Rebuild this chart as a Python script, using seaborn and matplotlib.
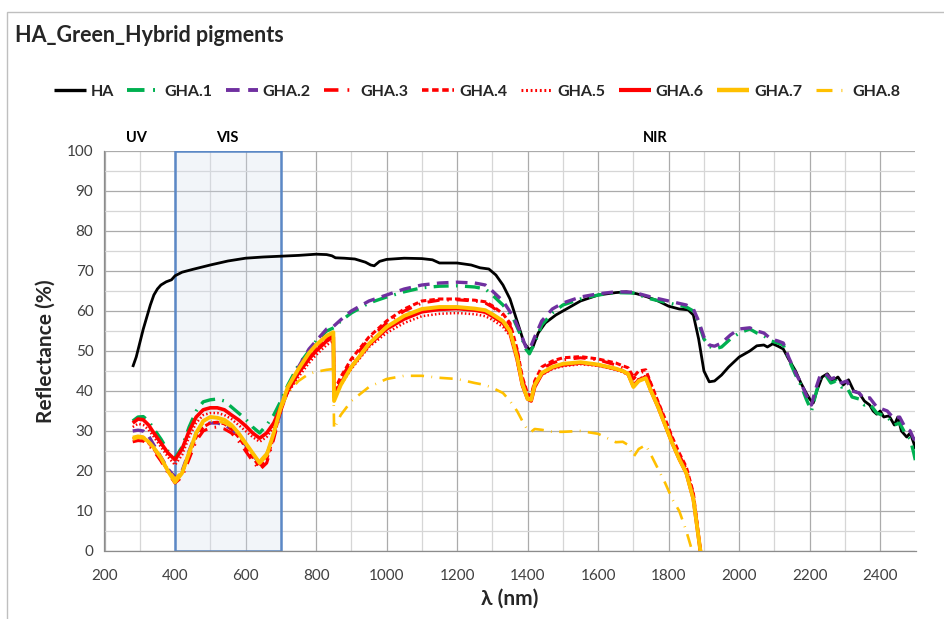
import numpy as np
import pandas as pd
import seaborn as sns
import matplotlib
matplotlib.use("Agg")
import matplotlib.pyplot as plt
from matplotlib.lines import Line2D
from matplotlib.patches import Rectangle

# ---------------- data ----------------
ha_x = [280, 290, 300, 310, 320, 330, 340, 350, 360, 375, 390, 400, 420, 450, 500, 550, 600, 650,
        700, 750, 800, 830, 845, 855, 880, 910, 940, 955, 965, 980, 1000, 1050, 1100, 1130, 1150,
        1200, 1240, 1265, 1290, 1310, 1330, 1350, 1370, 1390, 1405, 1415, 1430, 1450, 1480, 1510,
        1550, 1600, 1650, 1680, 1710, 1740, 1770, 1800, 1830, 1855, 1870, 1885, 1900, 1915, 1930,
        1950, 1970, 2000, 2030, 2050, 2070, 2080, 2095, 2110, 2125, 2140, 2160, 2175, 2190, 2200,
        2210, 2220, 2235, 2250, 2265, 2280, 2295, 2310, 2325, 2340, 2355, 2370, 2380, 2390, 2400,
        2410, 2425, 2440, 2450, 2460, 2475, 2485, 2495, 2500]
ha_y = [46, 48.5, 52, 55.5, 58.5, 61.5, 64, 65.5, 66.5, 67.3, 67.8, 68.8, 69.7, 70.4, 71.5, 72.5,
        73.2, 73.5, 73.7, 73.9, 74.2, 74.1, 73.8, 73.3, 73.2, 73, 72.2, 71.5, 71.3, 72.4, 72.9, 73.2,
        73.1, 72.8, 72, 72, 71.5, 70.8, 70.5, 69, 66.5, 63, 57.5, 52, 50.3, 51, 54.5, 57, 59, 60.5,
        62.5, 64, 64.6, 64.8, 64.3, 63.5, 62.5, 61.2, 60.5, 60.3, 59, 53, 45, 42.3, 42.5,
        44, 46, 48.5, 50, 51.3, 51.5, 51, 51.8, 51.2, 50.5, 48, 45, 42, 39.5, 38,
        37, 40, 43.5, 44.3, 42.5, 43.5, 41.5, 42.8, 40, 39.5, 37.5, 36.5, 35, 34.2, 35,
        33.5, 33.8, 31.5, 33.5, 30, 28.5, 29.5, 27, 25.5]

g12_x = [280, 295, 310, 325, 340, 360, 380, 400, 420, 440, 460, 480, 500, 520, 540, 560, 580, 600,
         620, 640, 660, 680, 700, 720, 750, 780, 800, 830, 850, 870, 900, 950, 1000, 1050, 1100,
         1150, 1200, 1250, 1280, 1300, 1330, 1360, 1380, 1395, 1405, 1420, 1440, 1470, 1500, 1550,
         1600, 1650, 1700, 1750, 1800, 1850, 1870, 1885, 1900, 1915, 1930, 1950, 1975, 2000, 2030,
         2050, 2070, 2090, 2110, 2125, 2140, 2160, 2175, 2190, 2205, 2215, 2230, 2245, 2260, 2275,
         2290, 2305, 2320, 2340, 2355, 2370, 2390, 2405, 2420, 2440, 2455, 2470, 2485, 2495, 2500]
gha1_y = [32.5, 33.5, 33.6, 32.5, 30.5, 28, 25, 23.2, 26, 31, 35, 37.3, 37.8, 38, 37.5, 36, 34.5, 33,
          31, 29.5, 31.5, 34, 37.5, 41.5, 46.5, 50, 52.5, 55, 55.8, 57.5, 59.5, 62, 63.5, 64.8, 65.8,
          66.2, 66.3, 66, 65.5, 64, 61.5, 58, 54, 50.5, 49.3, 52, 56.5, 59.5, 61.5, 63,
          64, 64.6, 64.5, 63, 62, 61, 60, 57, 53, 51.2, 50.5, 51, 53, 54.5, 55.5,
          54.5, 53.8, 52.5, 52, 51.5, 48, 44, 41.5, 38, 35, 38.5, 43.5, 44, 42, 42.5,
          41, 41, 38.5, 38, 36.5, 36.8, 34.5, 34, 33.5, 31.5, 32, 29.5, 28, 24.5, 22.5]
gha2_y = [30, 30.2, 30, 28.8, 26.5, 23.5, 20.5, 18.5, 20, 25, 29.5, 31.5, 32, 32, 31.5, 30.5, 28.5, 26.5,
          24, 22, 24, 29, 35, 40.5, 46, 50.5, 52.5, 55.5, 56.2, 57.8, 60, 62.5, 64, 65.5, 66.5,
          67, 67.2, 67, 66.5, 65, 62.5, 58.5, 54.5, 51, 50.3, 53.5, 57.5, 60.5, 62, 63.5,
          64.3, 64.8, 64.7, 63.5, 62.5, 61.5, 60.5, 57.5, 53.5, 51.5, 51.2, 52, 54, 55.5, 55.8,
          55, 54.5, 53, 52.5, 52, 48.5, 44.5, 42, 39, 36.5, 40, 44, 44.3, 43, 43.5,
          42, 42.5, 40, 39.5, 38, 38.3, 36, 35.5, 35, 33, 33.5, 31, 30, 28, 28]

gv_x = [280, 295, 310, 325, 340, 360, 380, 400, 420, 440, 460, 480, 500, 520, 540, 560, 580, 600,
        620, 640, 660, 680, 700, 720, 750, 780, 800, 830, 849, 851, 870, 900, 950, 1000, 1050,
        1100, 1150, 1200, 1250, 1280, 1300, 1330, 1350, 1370, 1385, 1400, 1410, 1420, 1440, 1470,
        1500, 1550, 1600, 1650, 1670, 1685, 1700, 1715, 1735, 1750, 1770, 1790, 1810, 1830, 1850,
        1870, 1890, 1900]
gha3_y = [27.3, 27.6, 27.5, 26.5, 25, 22.5, 19.5, 17, 18.5, 23, 27.5, 30, 30.8, 31, 30.5, 29.5, 27.5, 25,
          22.5, 20.3, 22, 28, 35, 40, 45, 48.5, 50.5, 53, 54, 39.5, 43, 47.5, 53, 57, 60,
          62, 62.7, 62.8, 62.5, 62, 61, 59, 56.5, 50, 43, 39, 38.5, 42, 45.5, 47,
          47.8, 48.3, 47.8, 46.5, 45.8, 45.3, 43, 44.5, 45, 41.5, 37, 32.5, 28, 24, 20.5,
          14, 0, -10]
gha4_y = [28, 28.3, 28.2, 27, 25.5, 23, 20, 17.5, 19.5, 24, 28.5, 31, 32, 32.2, 31.8, 30.5, 28.5, 26,
          23.5, 21, 23, 28.5, 35.5, 40.5, 45.5, 49, 51, 53.5, 54.5, 40, 43.5, 48, 53.5, 57.5, 60.5,
          62.5, 63, 63, 62.7, 62.3, 61.3, 59.3, 57, 50.5, 43.5, 39.3, 38.8, 42.5, 46, 47.5,
          48.3, 48.6, 48, 47, 46.3, 45.8, 43.5, 45, 45.3, 41.8, 37.3, 33, 28.5, 24.5, 21,
          14.5, 0, -10]
gha5_y = [31, 31.8, 31.5, 30.3, 28.5, 26, 23.5, 21.5, 24, 28.5, 32, 34, 34.5, 34.5, 34, 33, 31.5, 30,
          28.5, 27.3, 28.5, 31, 36, 39.5, 43.5, 47, 49, 51.5, 52.5, 38.5, 41.5, 45.5, 51, 54.5, 57,
          58.7, 59.3, 59.5, 59.2, 58.7, 57.8, 56, 53.8, 47.5, 41.3, 38, 37.5, 41, 44, 45.5,
          46.2, 46.7, 46.3, 45.3, 44.7, 44, 41.5, 43, 43.8, 40.2, 36, 31.5, 27, 23, 19.5,
          13, 0, -10]
gha6_y = [32, 33, 32.8, 31.5, 29.5, 27, 24.5, 22.8, 25.5, 30, 33.5, 35.3, 35.8, 35.8, 35.3, 34, 32.8, 31.3,
          29.5, 28.2, 29.5, 32, 36, 40, 44.5, 48, 50, 52.5, 53.5, 38.5, 42, 46, 51.5, 55.5, 58,
          59.8, 60.4, 60.6, 60.2, 59.7, 58.7, 57, 54.5, 48, 41.5, 38, 37.5, 41, 44.2, 45.8,
          46.5, 47, 46.5, 45.5, 45, 44.2, 41.2, 42.8, 43.5, 40, 36, 31.5, 27, 23, 19.5,
          13, 0, -10]
gha7_y = [28, 28.5, 28.3, 27.3, 25.8, 23.3, 20, 17.2, 19.5, 24.5, 29.5, 32.5, 33.5, 33.3, 32.8, 31.5, 29.5, 27,
          24.5, 22, 24, 29.5, 36, 41, 45.5, 49.5, 51.5, 53.8, 54.7, 37.5, 41.5, 46, 51.8, 56, 58.8,
          60.5, 61, 61, 60.6, 60.2, 59.2, 57.5, 55, 48.5, 41.8, 38, 37.8, 41.5, 44.5, 46,
          46.8, 47.2, 46.6, 45.6, 45, 44.3, 41, 42.5, 43.2, 40, 36, 31.5, 27, 23, 19.5,
          13, 0, -10]
gha8_y = [28.5, 28.8, 28.6, 27.5, 26, 23.5, 20.5, 18, 20, 25, 29.5, 32, 32.5, 32.5, 32, 31, 29, 26.8,
          24.5, 22.5, 24.5, 29.5, 35.5, 39.5, 42.5, 44.3, 44.8, 45.3, 45.5, 30.5, 34, 37.5, 41, 43, 43.8,
          43.8, 43.3, 43, 42, 41.5, 40.8, 39.5, 37.5, 35, 32.5, 30.2, 29.8, 30.5, 30.3, 29.8,
          29.8, 30, 29.3, 27.2, 27.3, 26.5, 23.5, 25.5, 26.5, 24, 20.5, 17, 13, 10, 5,
          -1, -10, -15]

series_names = ["HA", "GHA.1", "GHA.2", "GHA.3", "GHA.4", "GHA.5", "GHA.6", "GHA.7", "GHA.8"]
series_x = [ha_x, g12_x, g12_x, gv_x, gv_x, gv_x, gv_x, gv_x, gv_x]
series_y = [ha_y, gha1_y, gha2_y, gha3_y, gha4_y, gha5_y, gha6_y, gha7_y, gha8_y]

x_ticks = list(range(200, 2501, 200))
y_ticks = list(range(0, 101, 10))
region_labels = ["UV", "VIS", "NIR"]

# ---------------- styles ----------------
colors = ["#000000", "#00B050", "#7030A0", "#FF0000", "#FF0000", "#FF0000", "#FF0000", "#FFC000", "#FFC000"]
widths = [2.0, 2.4, 2.4, 2.2, 2.2, 1.8, 2.6, 2.8, 1.9]
dash_styles = [None, (4.5, 2.2, 0.5, 2.2), (3.5, 2.2), (4, 2.5, 0.5, 2.5), (1.8, 1.0),
               (0.6, 0.9), None, None, (5, 2.8, 0.3, 2.8)]

sns.set_theme(style="white")
plt.rcParams["font.family"] = ["Lato", "DejaVu Sans"]

fig = plt.figure(figsize=(9.45, 6.19), dpi=100)
ax = fig.add_axes([104.5 / 945, 68 / 619, 811 / 945, 400 / 619])

for name, xs, ys, c, lw, ds in zip(series_names, series_x, series_y, colors, widths, dash_styles):
    df = pd.DataFrame({"x": xs, "y": ys})
    sns.lineplot(data=df, x="x", y="y", ax=ax, color=c, linewidth=lw,
                 estimator=None, sort=False, legend=False)
    ln = ax.lines[-1]
    ln.set_solid_capstyle("butt")
    if ds is not None:
        ln.set_dashes(ds)
        ln.set_dash_capstyle("butt")
    ln.set_zorder(3)

ax.add_patch(Rectangle((400, 0), 300, 100, facecolor="#D5DEEE", alpha=0.3, edgecolor="none", zorder=1))
ax.add_patch(Rectangle((400, 0), 300, 100, facecolor="none", edgecolor="#5B88C6", lw=1.8, zorder=2))

ax.set_xlim(200, 2500)
ax.set_ylim(0, 100)
ax.set_xticks(x_ticks)
ax.set_xticks(list(range(300, 2501, 200)), minor=True)
ax.set_yticks(y_ticks)
ax.set_yticks(list(range(5, 100, 10)), minor=True)
ax.grid(which="major", color="#ABABAB", lw=0.9)
ax.grid(which="minor", color="#D6D6D6", lw=0.9)
ax.set_axisbelow(True)
for s in ["top", "right"]:
    ax.spines[s].set_visible(False)
for s in ["left", "bottom"]:
    ax.spines[s].set_color("#8C8C8C")
    ax.spines[s].set_linewidth(0.9)
ax.tick_params(axis="both", which="major", length=5, color="#8C8C8C", labelsize=11, labelcolor="#404040", pad=3)
ax.tick_params(axis="x", which="minor", length=0)
ax.tick_params(axis="y", which="minor", length=0)
ax.tick_params(axis="x", pad=8)
ax.set_xlabel("λ (nm)", fontsize=15, fontweight="bold", labelpad=4)
ax.set_ylabel("Reflectance (%)", fontsize=15, fontweight="bold", labelpad=8)

# region labels
for lab, xpos in zip(region_labels, [290, 547, 1761]):
    ax.text(xpos, 101.5, lab, ha="center", va="bottom", fontsize=10.5, fontweight="bold", color="#000000")

# title
fig.text(15 / 945, 1 - 36 / 619, "HA_Green_Hybrid pigments", fontsize=15.5, fontweight="bold",
         ha="left", va="center")

# outer chart frame
fig.add_artist(Rectangle((7 / 945, -0.05), 1.2, 1 - 12 / 619 + 0.05, transform=fig.transFigure,
                         facecolor="none", edgecolor="#BFBFBF", lw=1.0))

handles = []
for name, c, lw, ds in zip(series_names, colors, widths, dash_styles):
    h = Line2D([0], [0], color=c, lw=lw + 0.4, solid_capstyle="butt")
    if ds is not None:
        h.set_dashes(ds)
    handles.append(h)
leg = fig.legend(handles, series_names, ncol=9, loc="center", bbox_to_anchor=(477 / 945, 1 - 92 / 619),
                 frameon=False, handlelength=2.0, handletextpad=0.3, columnspacing=0.85,
                 prop={"weight": "bold", "size": 11.5})

fig.savefig("out.png", dpi=100)
